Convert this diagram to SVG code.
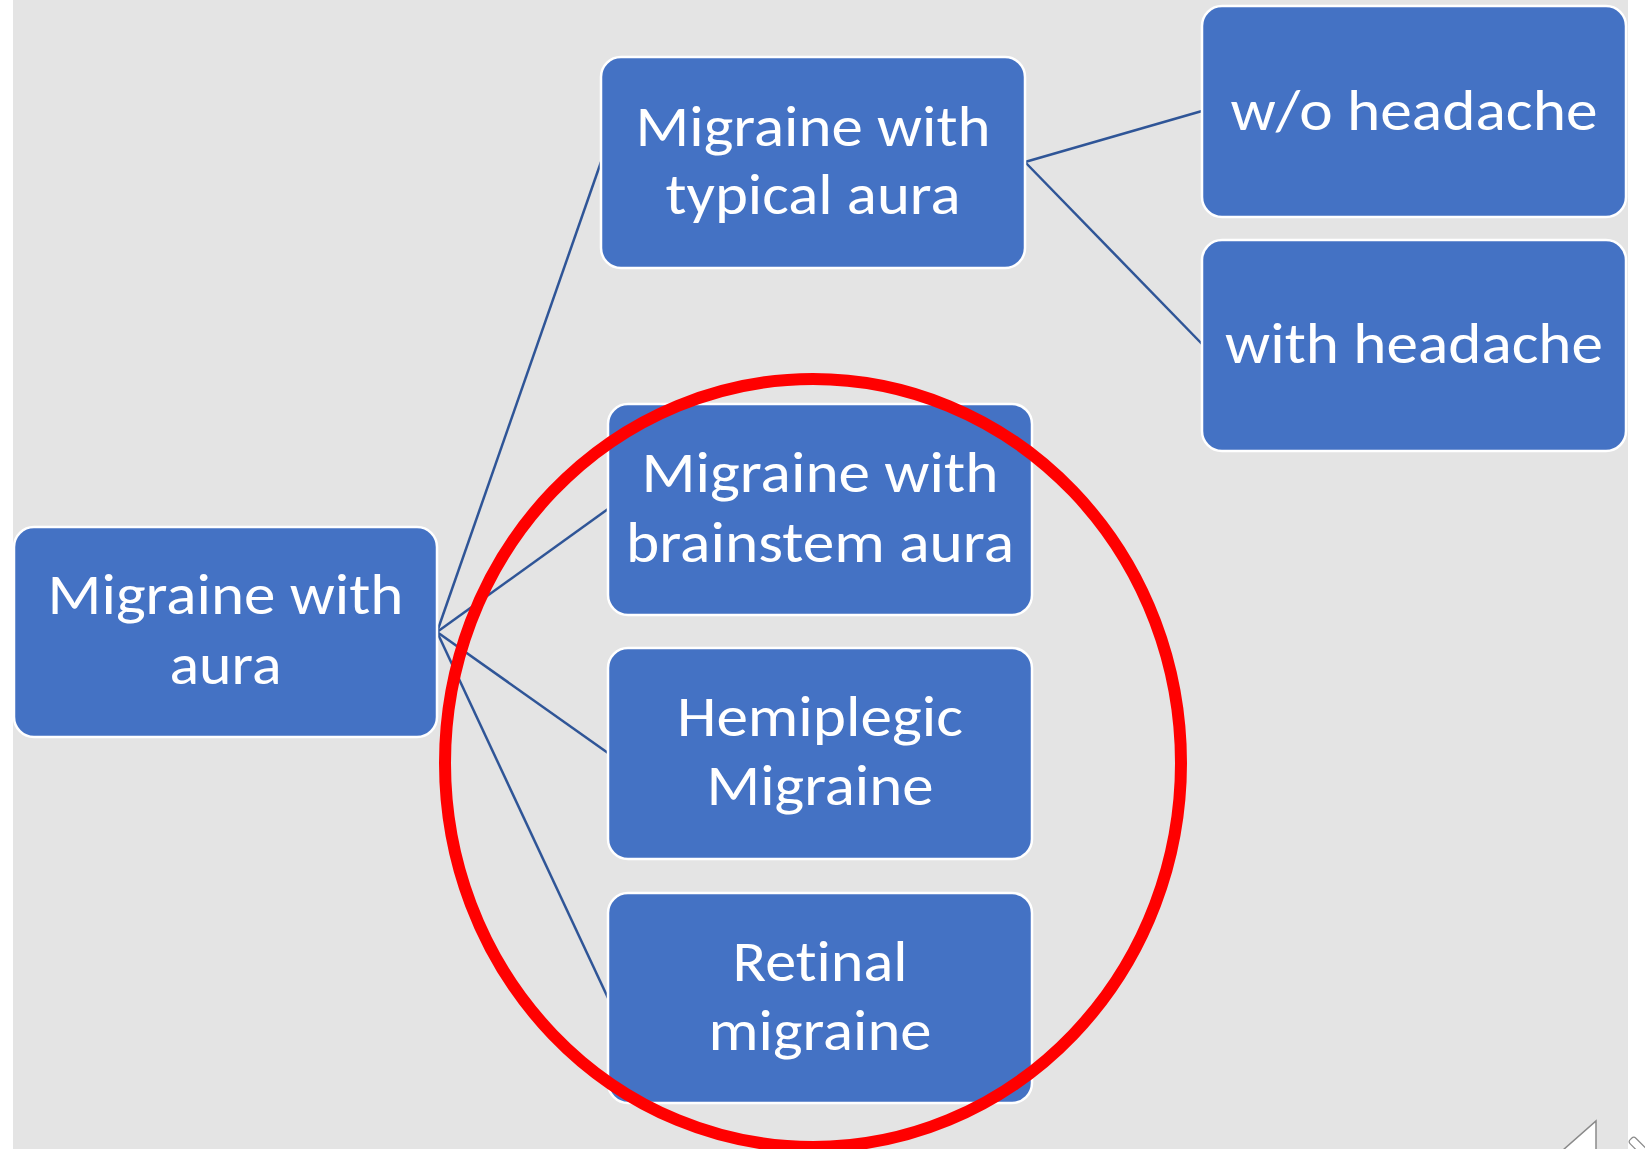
<svg xmlns="http://www.w3.org/2000/svg" width="1645" height="1149" viewBox="0 0 1645 1149">
<style>
.box{fill:#4472C4;stroke:#FFFFFF;stroke-width:2.5}
.lbl{font-family:Carlito,Lato,"Open Sans",sans-serif;font-size:58px;fill:#FFFFFF;text-anchor:middle;font-variant-ligatures:none;font-feature-settings:"liga" 0}
.conn{stroke:#2F5597;stroke-width:2.5;fill:none}
</style>
<rect x="0" y="0" width="1645" height="1149" fill="#FFFFFF"/>
<rect x="13" y="0" width="1615" height="1149" fill="#E4E4E4"/>
<g id="connectors">
<line class="conn" x1="437" y1="632" x2="601" y2="162"/>
<line class="conn" x1="437" y1="632" x2="608" y2="509"/>
<line class="conn" x1="437" y1="632" x2="608" y2="753"/>
<line class="conn" x1="437" y1="632" x2="608" y2="998"/>
<line class="conn" x1="1025" y1="162" x2="1202" y2="111"/>
<line class="conn" x1="1025" y1="162" x2="1202" y2="344"/>
</g>
<g id="node-aura">
<rect class="box" x="14" y="527" width="423" height="210" rx="20"/>
<text class="lbl" x="225.5" y="614" textLength="356" lengthAdjust="spacingAndGlyphs">Migraine with</text>
<text class="lbl" x="225.5" y="684" textLength="112" lengthAdjust="spacingAndGlyphs">aura</text>
</g>
<g id="node-typical">
<rect class="box" x="601" y="57" width="424" height="211" rx="20"/>
<text class="lbl" x="813" y="146" textLength="355" lengthAdjust="spacingAndGlyphs">Migraine with</text>
<text class="lbl" x="813" y="214" textLength="295" lengthAdjust="spacingAndGlyphs">typical aura</text>
</g>
<g id="node-wo-headache">
<rect class="box" x="1202" y="6" width="424" height="211" rx="20"/>
<text class="lbl" x="1414" y="130" textLength="367" lengthAdjust="spacingAndGlyphs">w/o headache</text>
</g>
<g id="node-with-headache">
<rect class="box" x="1202" y="240" width="424" height="211" rx="20"/>
<text class="lbl" x="1414" y="363" textLength="378" lengthAdjust="spacingAndGlyphs">with headache</text>
</g>
<g id="node-brainstem">
<rect class="box" x="608" y="404" width="424" height="211" rx="20"/>
<text class="lbl" x="820" y="492" textLength="357" lengthAdjust="spacingAndGlyphs">Migraine with</text>
<text class="lbl" x="820" y="562" textLength="388" lengthAdjust="spacingAndGlyphs">brainstem aura</text>
</g>
<g id="node-hemiplegic">
<rect class="box" x="608" y="648" width="424" height="211" rx="20"/>
<text class="lbl" x="820" y="736" textLength="286" lengthAdjust="spacingAndGlyphs">Hemiplegic</text>
<text class="lbl" x="820" y="805" textLength="227" lengthAdjust="spacingAndGlyphs">Migraine</text>
</g>
<g id="node-retinal">
<rect class="box" x="608" y="893" width="424" height="210" rx="20"/>
<text class="lbl" x="820" y="981" textLength="175" lengthAdjust="spacingAndGlyphs">Retinal</text>
<text class="lbl" x="820" y="1050" textLength="223" lengthAdjust="spacingAndGlyphs">migraine</text>
</g>
<ellipse cx="813" cy="763" rx="368" ry="384" fill="none" stroke="#FF0000" stroke-width="12"/>
<polygon points="1563,1150 1596,1121 1596,1150" fill="#FFFFFF" stroke="#8A8A8A" stroke-width="1.5"/>
<rect x="1634" y="1136" width="8" height="20" rx="3" transform="rotate(-45 1638 1146)" fill="#FFFFFF" stroke="#8A8A8A" stroke-width="1.2"/>
</svg>
